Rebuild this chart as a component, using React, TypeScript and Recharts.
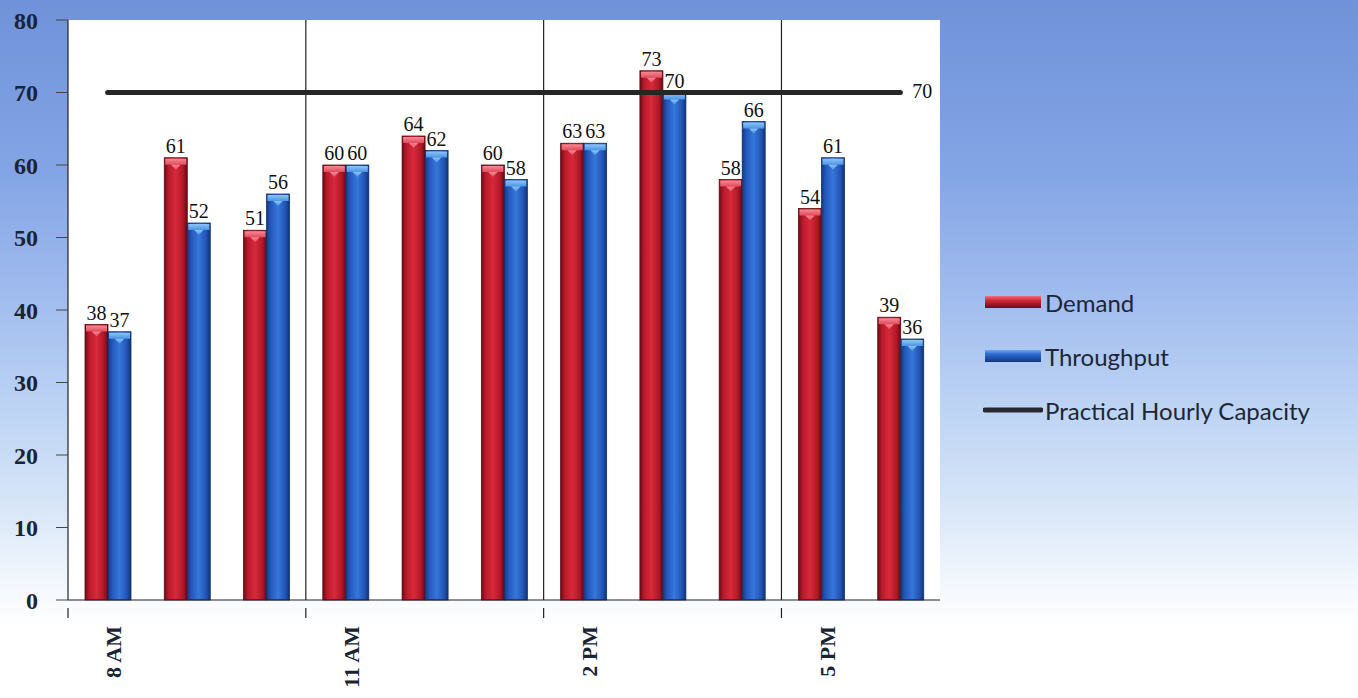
import { ComposedChart, Bar, Line, XAxis, YAxis, CartesianGrid, LabelList } from 'recharts';

const hours = ['8 AM', '9 AM', '10 AM', '11 AM', '12 PM', '1 PM', '2 PM', '3 PM', '4 PM', '5 PM', '6 PM'];
const demand = [38, 61, 51, 60, 64, 60, 63, 73, 58, 54, 39];
const throughput = [37, 52, 56, 60, 62, 58, 63, 70, 66, 61, 36];
const capacity = [70, 70, 70, 70, 70, 70, 70, 70, 70, 70, 70];
const yTicks = [0, 10, 20, 30, 40, 50, 60, 70, 80];
// every third hour gets a label and a separator
const labelStep = 3;

const W = 1358;
const H = 698;
const margin = { top: 20, right: 418, left: 0, bottom: 0 };
const yAxisWidth = 68;
const plotWidth = W - margin.left - margin.right - yAxisWidth;
const band = plotWidth / hours.length;

const data = hours.map((hour, i) => ({
  hour,
  demand: demand[i],
  throughput: throughput[i],
  capacity: capacity[i],
}));

const serif = '"Liberation Serif", "DejaVu Serif", serif';

const BarShape = (props: any) => {
  const { x, y, width, height, tone } = props;
  if (!height || height <= 0) return null;
  const cap = tone === 'red' ? 'url(#capRed)' : 'url(#capBlue)';
  const body = tone === 'red' ? 'url(#barRed)' : 'url(#barBlue)';
  const edge = tone === 'red' ? '#5e0810' : '#10306e';
  return (
    <g>
      <rect x={x} y={y} width={width} height={height} fill={body} stroke={edge} strokeWidth={0.8} />
      <rect x={x + 1} y={y + 1} width={width - 2} height={6} fill={cap} />
      <polygon
        points={`${x + width * 0.3},${y + 7} ${x + width * 0.7},${y + 7} ${x + width * 0.5},${y + 12}`}
        fill={cap}
      />
    </g>
  );
};

const HourTick = (props: any) => {
  const { x, y, payload, index } = props;
  if (index % labelStep !== 0) return null;
  const left = x - band / 2;
  return (
    <g>
      <line x1={left} y1={y} x2={left} y2={y + 10} stroke="#222" strokeWidth={1.2} />
      <text
        transform={`translate(${x + 6},${y + 18}) rotate(-90)`}
        textAnchor="end"
        dominantBaseline="central"
        fontFamily={serif}
        fontWeight="bold"
        fontSize={22}
        fill="#1a2434"
      >
        {payload.value}
      </text>
    </g>
  );
};

const CapacityLabel = (props: any) => {
  const { x, y, value, index } = props;
  if (index !== hours.length - 1) return null;
  return (
    <text x={x + 12} y={y - 2} dominantBaseline="central" fontFamily={serif} fontSize={20} fill="#111">
      {value}
    </text>
  );
};

const legendItems = [
  { name: 'Demand', kind: 'red' },
  { name: 'Throughput', kind: 'blue' },
  { name: 'Practical Hourly Capacity', kind: 'line' },
];

const LegendBox = () => (
  <div
    style={{
      position: 'absolute',
      left: 983,
      top: 275,
      fontFamily: 'Lato, "Open Sans", sans-serif',
      fontSize: 24,
      color: '#1c2636',
    }}
  >
    {legendItems.map((item) => (
      <div key={item.name} style={{ display: 'flex', alignItems: 'center', height: 54 }}>
        <svg width={60} height={16} style={{ marginRight: 2 }}>
          <defs>
            <linearGradient id={`leg-${item.kind}`} x1="0" y1="0" x2="0" y2="1">
              <stop offset="0%" stopColor={item.kind === 'red' ? '#f07080' : '#6aa8f0'} />
              <stop offset="35%" stopColor={item.kind === 'red' ? '#d42a3a' : '#2e6cd0'} />
              <stop offset="100%" stopColor={item.kind === 'red' ? '#6a0a14' : '#123880'} />
            </linearGradient>
          </defs>
          {item.kind === 'line' ? (
            <line x1={2} y1={8} x2={58} y2={8} stroke="#262a30" strokeWidth={5} strokeLinecap="round" />
          ) : (
            <rect x={2} y={2} width={56} height={12} fill={`url(#leg-${item.kind})`} />
          )}
        </svg>
        <span>{item.name}</span>
      </div>
    ))}
  </div>
);

export default function App() {
  return (
    <div
      style={{
        position: 'absolute',
        left: 0,
        top: 0,
        width: W,
        height: H,
        overflow: 'hidden',
        background:
          'linear-gradient(180deg, #6f92da 0%, #84a5e5 25%, #a0bbee 42%, #bcd3f4 58%, #d6e5f8 72%, #f4f8fd 84%, #ffffff 90%)',
      }}
    >
      <ComposedChart width={W} height={H} data={data} margin={margin} barGap={0} barSize={23}>
        <defs>
          <linearGradient id="barRed" x1="0" y1="0" x2="1" y2="0">
            <stop offset="0%" stopColor="#6e0a14" />
            <stop offset="18%" stopColor="#b81a2b" />
            <stop offset="50%" stopColor="#d8293b" />
            <stop offset="82%" stopColor="#b01828" />
            <stop offset="100%" stopColor="#650912" />
          </linearGradient>
          <linearGradient id="barBlue" x1="0" y1="0" x2="1" y2="0">
            <stop offset="0%" stopColor="#133a80" />
            <stop offset="18%" stopColor="#2458bc" />
            <stop offset="50%" stopColor="#3677da" />
            <stop offset="82%" stopColor="#2254b4" />
            <stop offset="100%" stopColor="#113474" />
          </linearGradient>
          <linearGradient id="capRed" x1="0" y1="0" x2="0" y2="1">
            <stop offset="0%" stopColor="#f48a96" />
            <stop offset="100%" stopColor="#e24a5a" />
          </linearGradient>
          <linearGradient id="capBlue" x1="0" y1="0" x2="0" y2="1">
            <stop offset="0%" stopColor="#8cc4f6" />
            <stop offset="100%" stopColor="#4a94e8" />
          </linearGradient>
        </defs>
        <CartesianGrid
          horizontal={false}
          fill="#ffffff"
          stroke="#222"
          strokeWidth={1.2}
          verticalCoordinatesGenerator={({ offset }: any) =>
            [3, 6, 9].map((i) => offset.left + (offset.width * i) / hours.length)
          }
        />
        <XAxis
          dataKey="hour"
          height={98}
          interval={0}
          tickLine={false}
          axisLine={{ stroke: '#222', strokeWidth: 1.2 }}
          tick={<HourTick />}
        />
        <YAxis
          width={yAxisWidth}
          domain={[0, 80]}
          ticks={yTicks}
          interval={0}
          tickSize={12}
          tickMargin={18}
          tickLine={{ stroke: '#444' }}
          axisLine={{ stroke: '#222', strokeWidth: 1.2 }}
          tick={{ fontFamily: serif, fontWeight: 'bold', fontSize: 24, fill: '#1a2434' }}
        />
        <Bar dataKey="demand" name="Demand" isAnimationActive={false} shape={<BarShape tone="red" />}>
          <LabelList dataKey="demand" position="top" offset={5} fontFamily={serif} fontSize={20} fill="#111" />
        </Bar>
        <Bar dataKey="throughput" name="Throughput" isAnimationActive={false} shape={<BarShape tone="blue" />}>
          <LabelList dataKey="throughput" position="top" offset={5} fontFamily={serif} fontSize={20} fill="#111" />
        </Bar>
        <Line
          type="linear"
          dataKey="capacity"
          name="Practical Hourly Capacity"
          stroke="#262626"
          strokeWidth={5}
          strokeLinecap="round"
          dot={false}
          activeDot={false}
          isAnimationActive={false}
        >
          <LabelList dataKey="capacity" content={<CapacityLabel />} />
        </Line>
      </ComposedChart>
      <LegendBox />
    </div>
  );
}
